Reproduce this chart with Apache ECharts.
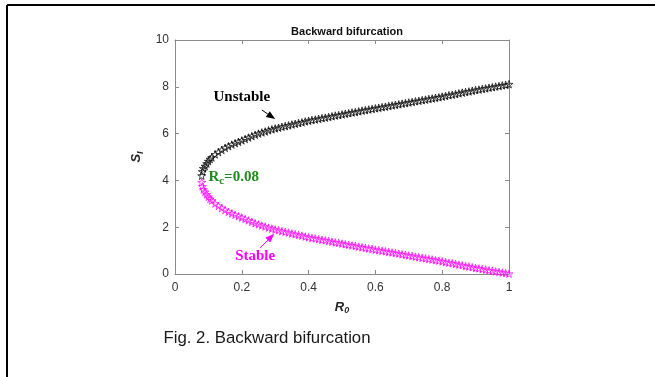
<!DOCTYPE html>
<html>
<head>
<meta charset="utf-8">
<script src="https://cdn.jsdelivr.net/npm/echarts@6/dist/echarts.min.js"></script>
<style>
  html, body { margin: 0; padding: 0; background: #fff; }
  #chart { width: 655px; height: 377px; }
</style>
</head>
<body>
<div id="chart"></div>
<script>
// R0 values where the stars sit (denser close to the turning point)
const r0 = [
  0.08, 0.082, 0.085, 0.09, 0.095, 0.10, 0.105, 0.11, 0.12, 0.13, 0.14, 0.15, 0.16, 0.17, 0.18, 0.19,
  0.20, 0.21, 0.22, 0.23, 0.24, 0.25, 0.26, 0.27, 0.28, 0.29,
  0.30, 0.31, 0.32, 0.33, 0.34, 0.35, 0.36, 0.37, 0.38, 0.39,
  0.40, 0.41, 0.42, 0.43, 0.44, 0.45, 0.46, 0.47, 0.48, 0.49,
  0.50, 0.51, 0.52, 0.53, 0.54, 0.55, 0.56, 0.57, 0.58, 0.59,
  0.60, 0.61, 0.62, 0.63, 0.64, 0.65, 0.66, 0.67, 0.68, 0.69,
  0.70, 0.71, 0.72, 0.73, 0.74, 0.75, 0.76, 0.77, 0.78, 0.79,
  0.80, 0.81, 0.82, 0.83, 0.84, 0.85, 0.86, 0.87, 0.88, 0.89,
  0.90, 0.91, 0.92, 0.93, 0.94, 0.95, 0.96, 0.97, 0.98, 0.99, 1.00
]

// upper branch (black stars)
const unstableS = [
  4.20, 4.38, 4.51, 4.61, 4.72, 4.82, 4.91, 4.98, 5.11, 5.21, 5.30, 5.39, 5.46, 5.53, 5.59, 5.65,
  5.71, 5.77, 5.83, 5.89, 5.95, 6.00, 6.05, 6.09, 6.14, 6.18,
  6.22, 6.25, 6.29, 6.32, 6.35, 6.39, 6.42, 6.45, 6.48, 6.52,
  6.55, 6.58, 6.60, 6.63, 6.66, 6.68, 6.71, 6.74, 6.77, 6.79,
  6.82, 6.85, 6.87, 6.90, 6.92, 6.95, 6.98, 7.00, 7.03, 7.05,
  7.08, 7.10, 7.13, 7.15, 7.18, 7.20, 7.23, 7.25, 7.28, 7.30,
  7.33, 7.35, 7.38, 7.40, 7.43, 7.45, 7.48, 7.50, 7.53, 7.55,
  7.58, 7.61, 7.64, 7.66, 7.69, 7.72, 7.75, 7.78, 7.80, 7.83,
  7.86, 7.88, 7.91, 7.93, 7.96, 7.98, 8.01, 8.03, 8.06, 8.08, 8.11
]

// lower branch (magenta stars)
const stableS = [
  3.92, 3.74, 3.61, 3.51, 3.40, 3.30, 3.21, 3.14, 3.01, 2.91, 2.82, 2.73, 2.66, 2.59, 2.53, 2.47,
  2.41, 2.35, 2.29, 2.23, 2.17, 2.12, 2.07, 2.03, 1.98, 1.94,
  1.90, 1.87, 1.83, 1.80, 1.77, 1.73, 1.70, 1.67, 1.64, 1.60,
  1.57, 1.54, 1.52, 1.49, 1.46, 1.44, 1.41, 1.38, 1.35, 1.33,
  1.30, 1.27, 1.25, 1.22, 1.20, 1.17, 1.14, 1.12, 1.09, 1.07,
  1.04, 1.02, 0.99, 0.97, 0.94, 0.92, 0.89, 0.87, 0.84, 0.82,
  0.79, 0.77, 0.74, 0.72, 0.69, 0.67, 0.64, 0.62, 0.59, 0.57,
  0.54, 0.51, 0.48, 0.46, 0.43, 0.40, 0.37, 0.34, 0.32, 0.29,
  0.26, 0.24, 0.21, 0.19, 0.16, 0.14, 0.11, 0.09, 0.06, 0.04, 0.01
]

const xTicks = [0, 0.2, 0.4, 0.6, 0.8, 1]
const yTicks = [0, 2, 4, 6, 8, 10]

// annotation arrows in data coords: [fromX, fromY, toX, toY]
const unstableArrow = [0.26, 7.01, 0.30, 6.62]
const stableArrow = [0.255, 1.12, 0.297, 1.72]

const STAR = "path://M50,0 L61,35 L98,35 L68,57 L79,91 L50,70 L21,91 L32,57 L2,35 L39,35 Z"
const AXIS_GREY = "#8a8a8a"
const LABEL_CLR = "#333"
const SANS = "Liberation Sans, Arial"
const MAGENTA = "#ff00ff"

const chart = echarts.init(document.getElementById("chart"), null, { renderer: "canvas" })

function axisBase(show) {
  return {
    type: "value",
    min: 0,
    axisLine: { show: true, onZero: false, lineStyle: { color: AXIS_GREY, width: 1 } },
    axisTick: { show: true, inside: true, length: 4, lineStyle: { color: AXIS_GREY } },
    splitLine: { show: false },
    axisLabel: { show: show, color: LABEL_CLR, fontSize: 12, fontFamily: SANS },
  }
}

const nameRich = {
  r: { fontSize: 13, fontWeight: "bold", fontStyle: "italic", color: "#262626", fontFamily: SANS },
  s: { fontSize: 9, fontWeight: "bold", fontStyle: "italic", color: "#262626", fontFamily: SANS, padding: [7, 0, 0, 0] },
}

// line + filled head, both ends run through the axes
function renderArrow(params, api) {
  const a = api.coord([api.value(0), api.value(1)])
  const b = api.coord([api.value(2), api.value(3)])
  const color = api.value(4) === 1 ? MAGENTA : "#000"
  const ang = Math.atan2(b[1] - a[1], b[0] - a[0])
  const len = 9, half = 3.5
  const base = [b[0] - len * Math.cos(ang), b[1] - len * Math.sin(ang)]
  const nx = -Math.sin(ang), ny = Math.cos(ang)
  return {
    type: "group",
    children: [
      { type: "line", shape: { x1: a[0], y1: a[1], x2: base[0], y2: base[1] }, style: { stroke: color, lineWidth: 1 } },
      {
        type: "polygon",
        shape: { points: [b, [base[0] + nx * half, base[1] + ny * half], [base[0] - nx * half, base[1] - ny * half]] },
        style: { fill: color },
      },
    ],
  }
}

chart.setOption({
  animation: false,
  backgroundColor: "#fff",
  title: {
    text: "Backward bifurcation",
    left: 342,
    top: 21,
    textAlign: "center",
    textStyle: { fontSize: 11, fontWeight: "bold", color: "#111", fontFamily: SANS },
  },
  grid: { left: 175, right: 146, top: 40, bottom: 103 },
  xAxis: [
    Object.assign(axisBase(true), {
      max: 1,
      interval: 0.2,
      axisLabel: Object.assign(axisBase(true).axisLabel, {
        margin: 8,
        formatter: (v) => (xTicks.includes(+v.toFixed(1)) ? String(+v.toFixed(1)) : ""),
      }),
      name: "{r|R}{s|0}",
      nameLocation: "middle",
      nameGap: 25,
      nameTextStyle: { rich: nameRich },
    }),
    Object.assign(axisBase(false), { max: 1, interval: 0.2, position: "top" }),
  ],
  yAxis: [
    Object.assign(axisBase(true), {
      max: 10,
      interval: 2,
      axisLabel: Object.assign(axisBase(true).axisLabel, {
        margin: 6,
        formatter: (v) => (yTicks.includes(v) ? String(v) : ""),
      }),
      name: "{r|S}{s|I}",
      nameLocation: "middle",
      nameGap: 18,
      nameTextStyle: { rich: nameRich },
    }),
    Object.assign(axisBase(false), { max: 10, interval: 2, position: "right" }),
  ],
  series: [
    {
      name: "Unstable",
      type: "scatter",
      data: r0.map((x, i) => [x, unstableS[i]]),
      symbol: STAR,
      symbolSize: 8,
      symbolKeepAspect: true,
      itemStyle: { color: "rgba(255,255,255,0)", borderColor: "#000", borderWidth: 0.9 },
    },
    {
      name: "Stable",
      type: "scatter",
      data: r0.map((x, i) => [x, stableS[i]]),
      symbol: STAR,
      symbolSize: 8,
      symbolKeepAspect: true,
      itemStyle: { color: "rgba(255,255,255,0)", borderColor: MAGENTA, borderWidth: 0.9 },
    },
    {
      name: "arrows",
      type: "custom",
      silent: true,
      renderItem: renderArrow,
      data: [unstableArrow.concat([0]), stableArrow.concat([1])],
      z: 5,
    },
  ],
})

// text annotations, placed from data coords
const toPx = (pt) => chart.convertToPixel({ xAxisIndex: 0, yAxisIndex: 0 }, pt)
const pU = toPx([0.20, 7.56])
const pS = toPx([0.24, 0.77])
const pR = toPx([0.10, 4.12])
const serif = "Liberation Serif, Times New Roman, serif"

chart.setOption({
  graphic: [
    { type: "line", shape: { x1: 7, y1: 5, x2: 655, y2: 5 }, style: { stroke: "#000", lineWidth: 2 } },
    { type: "line", shape: { x1: 7, y1: 5, x2: 7, y2: 377 }, style: { stroke: "#000", lineWidth: 2 } },
    {
      type: "text", x: pU[0], y: pU[1],
      style: { text: "Unstable", fill: "#000", font: "bold 15px " + serif, textAlign: "center", textVerticalAlign: "middle" },
    },
    {
      type: "text", x: pS[0], y: pS[1],
      style: { text: "Stable", fill: MAGENTA, font: "bold 15px " + serif, textAlign: "center", textVerticalAlign: "middle" },
    },
    {
      type: "text", x: pR[0], y: pR[1],
      style: {
        text: "{r|R}{s|c}{r|=0.08}",
        textAlign: "left",
        textVerticalAlign: "middle",
        rich: {
          r: { fontSize: 15, fontWeight: "bold", fill: "#1f8a1f", fontFamily: serif },
          s: { fontSize: 11, fontWeight: "bold", fill: "#1f8a1f", fontFamily: serif, padding: [8, 0, 0, 0] },
        },
      },
    },
    {
      type: "text", x: 267, y: 338,
      style: { text: "Fig. 2. Backward bifurcation", fill: "#1a1a1a", font: "16.8px Liberation Sans, Arial", textAlign: "center", textVerticalAlign: "middle" },
    },
  ],
})
</script>
</body>
</html>
